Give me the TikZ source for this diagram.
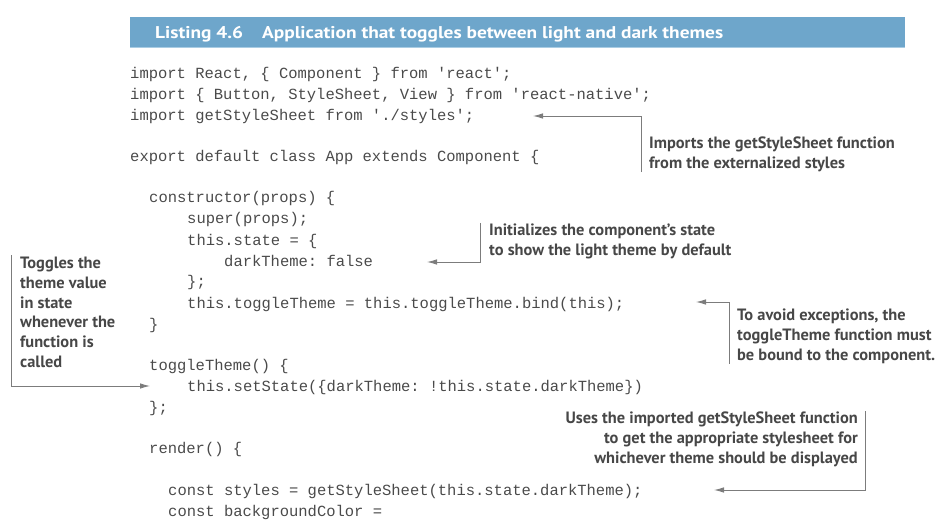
\documentclass[tikz,border=0pt]{standalone}
\usepackage{fontspec}
\setmainfont{PT Sans}
\setmonofont{Liberation Mono}
\newfontfamily\titlefont[FakeStretch=1.14]{PT Sans}
\usepackage{tikz}
\usetikzlibrary{arrows.meta}

\definecolor{barblue}{HTML}{6EA6CB}
\definecolor{barlight}{HTML}{A9CCE3}
\definecolor{notegray}{HTML}{474747}
\definecolor{codegray}{HTML}{4A4A4A}
\definecolor{linegray}{HTML}{7C7C7C}

\tikzset{
  code/.style={anchor=base west, inner sep=0pt, text=codegray,
    font=\ttfamily\fontsize{15.5}{21}\selectfont},
  note/.style={anchor=north west, inner sep=0pt, align=left, text=notegray,
    font=\bfseries\fontsize{16.4}{19.7}\selectfont},
  callout/.style={draw=linegray, line width=0.9pt,
    -{Latex[length=10pt,width=5.5pt]}},
}

\begin{document}
\begin{tikzpicture}[x=1pt,y=-1pt]
  \useasboundingbox (0,0) rectangle (946,532);

  % listing title
  \fill[barblue] (130,17) rectangle (905,48);
  \draw[barlight, line width=1pt] (130,47.5) -- (905,47.5);
  \node[anchor=base west, inner sep=0pt, text=white,
    font=\titlefont\bfseries\fontsize{17}{19}\selectfont] (title) at (155,38.5)
    {Listing 4.6\hspace{19pt}Application that toggles between light and dark themes};

  % code
  \node[code] (c1) at (130,79) {import React, \{ Component \} from 'react';};
  \node[code] (c2) at (130,100) {import \{ Button, StyleSheet, View \} from 'react-native';};
  \node[code] (c3) at (130,121) {import getStyleSheet from './styles';};
  \node[code] (c4) at (130,162) {export default class App extends Component \{};
  \node[code] (c5) at (149,203) {constructor(props) \{};
  \node[code] (c6) at (187,224) {super(props);};
  \node[code] (c7) at (187,245) {this.state = \{};
  \node[code] (c8) at (224,266) {darkTheme: false};
  \node[code] (c9) at (187,287) {\};};
  \node[code] (c10) at (187,308) {this.toggleTheme = this.toggleTheme.bind(this);};
  \node[code] (c11) at (149,329) {\}};
  \node[code] (c12) at (149,370) {toggleTheme() \{};
  \node[code] (c13) at (187,391) {this.setState(\{darkTheme: !this.state.darkTheme\})};
  \node[code] (c14) at (149,412) {\};};
  \node[code] (c15) at (149,453) {render() \{};
  \node[code] (c16) at (168,495) {const styles = getStyleSheet(this.state.darkTheme);};
  \node[code] (c17) at (168,516) {const backgroundColor =};

  % annotations
  \node[note] (n1) at (649,137) {Imports the getStyleSheet function\\from the externalized styles};
  \node[note] (n2) at (489,224) {Initializes the component's state\\to show the light theme by default};
  \node[note] (n3) at (737,309) {To avoid exceptions, the\\toggleTheme function must\\be bound to the component.};
  \node[note] (n4) at (20,257) {Toggles the\\theme value\\in state\\whenever the\\function is\\called};
  \node[note, anchor=north east, align=right] (n5) at (858,412)
    {Uses the imported getStyleSheet function\\to get the appropriate stylesheet for\\whichever theme should be displayed};

  % arrow targets
  \coordinate (t1) at (533,116);
  \coordinate (t2) at (427,262);
  \coordinate (t3) at (696,302);
  \coordinate (t4) at (150,386);
  \coordinate (t5) at (714,490);

  \draw[callout] ([xshift=-8pt]n1.south west) |- (t1);
  \draw[callout] ([xshift=-9pt,yshift=1pt]n2.north west) |- (t2);
  \draw[callout] ([xshift=-8pt]n3.south west) |- (t3);
  \draw[callout] ([xshift=-9pt,yshift=2pt]n4.north west) |- (t4);
  \draw[callout] ([xshift=7pt,yshift=1pt]n5.north east) |- (t5);
\end{tikzpicture}
\end{document}
